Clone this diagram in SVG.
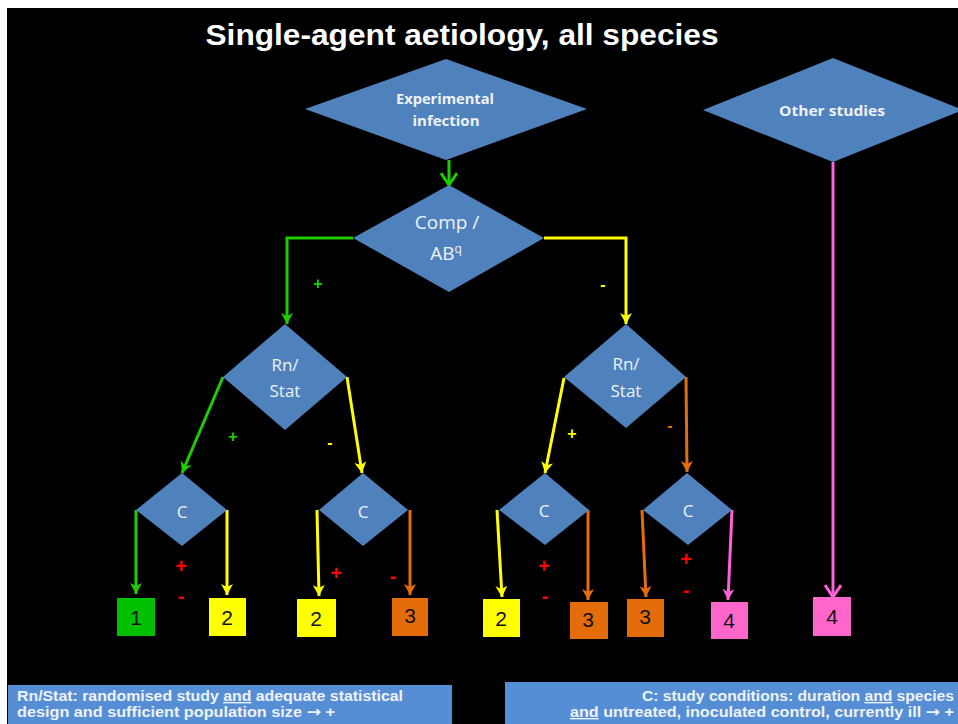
<svg xmlns="http://www.w3.org/2000/svg" width="958" height="724" viewBox="0 0 958 724">
<style>
.dia{fill:#4F81BD;}
.dt{font-family:"Open Sans","Noto Sans",sans-serif;fill:#EEF2F8;text-anchor:middle;}
.num{font-family:"Liberation Sans",Arial,sans-serif;font-size:21px;fill:#111;text-anchor:middle;}
.c{fill:none;stroke-width:3;}
.g{stroke:#1FCC00;}
.y{stroke:#FFFF00;}
.o{stroke:#E46C0A;}
.p{stroke:#FF5FD7;}
.sign{font-family:"Liberation Sans",Arial,sans-serif;font-weight:bold;text-anchor:middle;}
.note{font-family:"Liberation Sans",Arial,sans-serif;font-size:14px;font-weight:bold;fill:#EEF2FA;}
.u{text-decoration:underline;}
.arr{font-family:"DejaVu Sans",sans-serif;font-size:15px;}
</style>
<defs>
<marker id="fg" markerUnits="userSpaceOnUse" markerWidth="12" markerHeight="12" refX="11" refY="6" orient="auto"><path d="M0,0 L11,6 L0,12 L3,6 z" fill="#1FCC00"/></marker>
<marker id="fy" markerUnits="userSpaceOnUse" markerWidth="12" markerHeight="12" refX="11" refY="6" orient="auto"><path d="M0,0 L11,6 L0,12 L3,6 z" fill="#FFFF00"/></marker>
<marker id="fo" markerUnits="userSpaceOnUse" markerWidth="12" markerHeight="12" refX="11" refY="6" orient="auto"><path d="M0,0 L11,6 L0,12 L3,6 z" fill="#E46C0A"/></marker>
<marker id="fp" markerUnits="userSpaceOnUse" markerWidth="12" markerHeight="12" refX="11" refY="6" orient="auto"><path d="M0,0 L11,6 L0,12 L3,6 z" fill="#FF5FD7"/></marker>
<marker id="vg" markerUnits="userSpaceOnUse" markerWidth="16" markerHeight="18" refX="13" refY="9" orient="auto"><path d="M1,1 L13,9 L1,17" fill="none" stroke="#1FCC00" stroke-width="3"/></marker>
<marker id="vp" markerUnits="userSpaceOnUse" markerWidth="16" markerHeight="18" refX="13" refY="9" orient="auto"><path d="M1,1 L13,9 L1,17" fill="none" stroke="#FF5FD7" stroke-width="3"/></marker>
</defs>
<rect x="0" y="0" width="958" height="724" fill="#FFFFFF"/>
<rect x="7" y="8" width="951" height="716" fill="#000000"/>
<text x="462" y="45" font-family="Liberation Sans, Arial, sans-serif" font-size="29" font-weight="bold" fill="#FFFFFF" text-anchor="middle" textLength="513" lengthAdjust="spacingAndGlyphs">Single-agent aetiology, all species</text>

<g id="connectors">
<polyline class="c g" points="449,160 449,185" marker-end="url(#vg)"/>
<polyline class="c g" points="353,238 287,238 287,324" marker-end="url(#fg)"/>
<polyline class="c y" points="544,238 626,238 626,324" marker-end="url(#fy)"/>
<polyline class="c g" points="223,377 182,473" marker-end="url(#fg)"/>
<polyline class="c y" points="347,377 362,473" marker-end="url(#fy)"/>
<polyline class="c y" points="564,378 545,473" marker-end="url(#fy)"/>
<polyline class="c o" points="686,377 687,472" marker-end="url(#fo)"/>
<polyline class="c g" points="136,510 136,594" marker-end="url(#fg)"/>
<polyline class="c y" points="227,510 227,595" marker-end="url(#fy)"/>
<polyline class="c y" points="317,510 319,596" marker-end="url(#fy)"/>
<polyline class="c o" points="410,510 410,595" marker-end="url(#fo)"/>
<polyline class="c y" points="497,510 502,597" marker-end="url(#fy)"/>
<polyline class="c o" points="588,510 588,600" marker-end="url(#fo)"/>
<polyline class="c o" points="642,510 646,597" marker-end="url(#fo)"/>
<polyline class="c p" points="732,510 728,600" marker-end="url(#fp)"/>
<polyline class="c p" points="833,162 833,597" marker-end="url(#vp)"/>
<text class="sign" x="318" y="289" font-size="16" fill="#1FCC00">+</text>
<text class="sign" x="603" y="290" font-size="16" fill="#FFFF00">-</text>
<text class="sign" x="233" y="442" font-size="16" fill="#1FCC00">+</text>
<text class="sign" x="330" y="448" font-size="16" fill="#FFFF00">-</text>
<text class="sign" x="572" y="439" font-size="16" fill="#FFFF00">+</text>
<text class="sign" x="670" y="431" font-size="16" fill="#E46C0A">-</text>
<text class="sign" x="181" y="573" font-size="20" fill="#FF0000">+</text>
<text class="sign" x="181" y="603" font-size="20" fill="#FF0000">-</text>
<text class="sign" x="336" y="580" font-size="20" fill="#FF0000">+</text>
<text class="sign" x="393" y="583" font-size="20" fill="#FF0000">-</text>
<text class="sign" x="544" y="573" font-size="20" fill="#FF0000">+</text>
<text class="sign" x="545" y="603" font-size="20" fill="#FF0000">-</text>
<text class="sign" x="686" y="566" font-size="20" fill="#FF0000">+</text>
<text class="sign" x="686" y="597" font-size="20" fill="#FF0000">-</text>
</g>

<g id="experimental-infection">
<polygon class="dia" points="305,109 446,59 587,109 446,160"/>
<text class="dt" x="445" y="104" font-size="14" font-weight="bold" textLength="98" lengthAdjust="spacingAndGlyphs">Experimental</text>
<text class="dt" x="446" y="126" font-size="14" font-weight="bold" textLength="67" lengthAdjust="spacingAndGlyphs">infection</text>
</g>
<g id="other-studies">
<polygon class="dia" points="703,110 833,58 963,110 833,162"/>
<text class="dt" x="832" y="116" font-size="14" font-weight="bold" textLength="106" lengthAdjust="spacingAndGlyphs">Other studies</text>
</g>
<g id="comp-ab">
<polygon class="dia" points="353,238 449,185 544,238 449,292"/>
<text class="dt" x="447" y="229" font-size="19">Comp /</text>
<text class="dt" x="446" y="260" font-size="19">AB<tspan font-size="12" dy="-7">q</tspan></text>
</g>
<g id="rnstat-left">
<polygon class="dia" points="223,377 285,324 347,377 285,430"/>
<text class="dt" x="285" y="371" font-size="17">Rn/</text>
<text class="dt" x="285" y="397" font-size="17">Stat</text>
</g>
<g id="rnstat-right">
<polygon class="dia" points="564,377 626,324 686,377 626,428"/>
<text class="dt" x="626" y="370" font-size="17">Rn/</text>
<text class="dt" x="626" y="397" font-size="17">Stat</text>
</g>
<g id="c1">
<polygon class="dia" points="136,510 182,473 227,510 182,546"/>
<text class="dt" x="182" y="518" font-size="17">C</text>
</g>
<g id="c2">
<polygon class="dia" points="319,510 363,473 408,510 363,546"/>
<text class="dt" x="363" y="518" font-size="17">C</text>
</g>
<g id="c3">
<polygon class="dia" points="499,510 545,473 589,510 545,545"/>
<text class="dt" x="544" y="517" font-size="17">C</text>
</g>
<g id="c4">
<polygon class="dia" points="643,510 687,473 732,510 688,545"/>
<text class="dt" x="688" y="517" font-size="17">C</text>
</g>

<g id="box-1"><rect x="117" y="598" width="38" height="38" fill="#00C000"/><text class="num" x="136" y="625">1</text></g>
<g id="box-2a"><rect x="209" y="598" width="37" height="38" fill="#FFFF00"/><text class="num" x="227" y="625">2</text></g>
<g id="box-2b"><rect x="297" y="599" width="39" height="38" fill="#FFFF00"/><text class="num" x="316" y="626">2</text></g>
<g id="box-3a"><rect x="392" y="598" width="36" height="38" fill="#E46C0A"/><text class="num" x="410" y="623" font-size="17">3</text></g>
<g id="box-2c"><rect x="483" y="599" width="37" height="38" fill="#FFFF00"/><text class="num" x="501" y="626">2</text></g>
<g id="box-3b"><rect x="570" y="602" width="38" height="37" fill="#E46C0A"/><text class="num" x="588" y="627" font-size="17">3</text></g>
<g id="box-3c"><rect x="627" y="599" width="37" height="38" fill="#E46C0A"/><text class="num" x="645" y="624" font-size="17">3</text></g>
<g id="box-4a"><rect x="711" y="602" width="37" height="37" fill="#FF66CC"/><text class="num" x="729" y="628">4</text></g>
<g id="box-4b"><rect x="813" y="597" width="38" height="39" fill="#FF66CC"/><text class="num" x="832" y="624">4</text></g>

<g id="note-rnstat">
<rect x="8" y="685" width="444" height="45" fill="#558ED5"/>
<text class="note" x="17" y="701" textLength="386" lengthAdjust="spacingAndGlyphs">Rn/Stat: randomised  study <tspan class="u">and</tspan> adequate statistical</text>
<text class="note" x="17" y="717" textLength="318" lengthAdjust="spacingAndGlyphs">design and sufficient population size <tspan class="arr">→</tspan> +</text>
</g>
<g id="note-c">
<rect x="505" y="682" width="460" height="48" fill="#558ED5"/>
<text class="note" x="642" y="701" textLength="312" lengthAdjust="spacingAndGlyphs">C: study conditions:  duration <tspan class="u">and</tspan> species</text>
<text class="note" x="570" y="717" textLength="384" lengthAdjust="spacingAndGlyphs"><tspan class="u">and</tspan> untreated, inoculated  control, currently  ill <tspan class="arr">→</tspan> +</text>
</g>
</svg>
